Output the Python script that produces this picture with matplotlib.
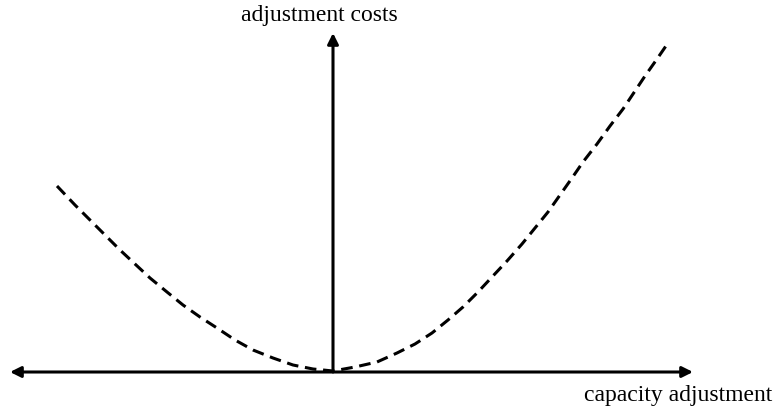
import matplotlib.pyplot as plt

# curve points (origin = where the axes cross)
left_x = [-276, -258, -243, -228, -213, -198, -183, -166, -150, -133, -116,
          -98, -80, -60, -40, -20, 0]
left_y = [186, 167, 152, 137, 122, 108, 94, 80, 67, 55, 44,
          32, 22, 14, 7, 3, 1]
right_x = [22, 44, 64, 82, 99, 115, 130, 145, 159, 174, 189, 202, 215,
           227, 239, 250, 264, 277, 290, 300, 312, 324, 335]
right_y = [5, 10, 19, 28, 39, 52, 65, 80, 95, 111, 128, 144, 160,
           177, 194, 210, 228, 246, 263, 278, 296, 313, 329]

# axis ends
X_LEFT, X_RIGHT = -323, 360
Y_TOP = 339

fig = plt.figure(figsize=(7.76, 4.11), dpi=100)
ax = fig.add_axes([0, 0, 1, 1])
ax.set_xlim(-333, 443)
ax.set_ylim(-39, 372)
ax.axis('off')

xs = left_x + right_x
ys = left_y + right_y
ax.plot(xs, ys, color='black', lw=2.2, linestyle=(0, (3.8, 2.2)),
        solid_joinstyle='round')

arrow = dict(arrowstyle='<|-|>', lw=2.2, color='black', mutation_scale=16,
             shrinkA=0, shrinkB=0)
ax.annotate('', xy=(X_RIGHT, 0), xytext=(X_LEFT, 0), arrowprops=arrow)
arrow_up = dict(arrow, arrowstyle='-|>')
ax.annotate('', xy=(0, Y_TOP), xytext=(0, 0), arrowprops=arrow_up)

font = dict(family='Liberation Serif', fontsize=17, color='black')
ax.text(-14, 356, 'adjustment costs', ha='center', va='center', **font)
ax.text(345, -23, 'capacity adjustment', ha='center', va='center', **font)

fig.savefig('out.png', dpi=100)
